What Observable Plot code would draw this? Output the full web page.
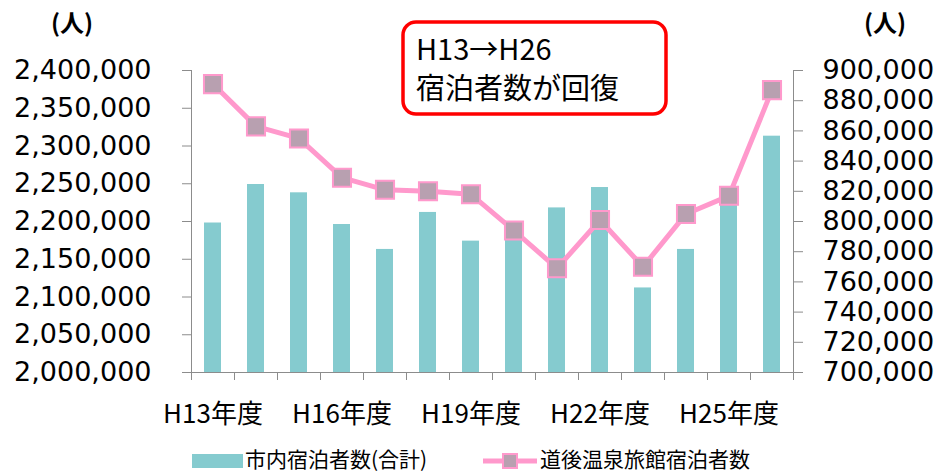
<!DOCTYPE html>
<html>
<head>
<meta charset="utf-8">
<script src="https://cdn.jsdelivr.net/npm/d3@7"></script>
<script src="https://cdn.jsdelivr.net/npm/@observablehq/plot@0.6"></script>
<style>
  html, body { margin: 0; padding: 0; background: #fff; }
  #wrap { width: 938px; height: 472px; position: relative; overflow: hidden; }
  #chart svg { display: block; }
  #legend { position: relative; width: 938px; height: 32px; font-family: "Noto Sans CJK JP", sans-serif; font-size: 21px; color: #000; }
  #legend .sw { position: absolute; }
  #legend .lab { position: absolute; top: 5px; height: 26px; line-height: 26px; white-space: nowrap; overflow: visible; }
</style>
</head>
<body>
<div id="wrap">
  <div id="chart"></div>
  <div id="legend"></div>
</div>
<script>
// ---- data ----
const categories = ["H13","H14","H15","H16","H17","H18","H19","H20","H21","H22","H23","H24","H25","H26"];
const cityStays = [2198000, 2249000, 2238000, 2196000, 2163000, 2212000, 2174000, 2190000, 2218000, 2245000, 2112000, 2163000, 2232000, 2313000];
const dogoStays = [891000, 863000, 855000, 829000, 821000, 820000, 818000, 794000, 769000, 801000, 770000, 805000, 817000, 887000];
const xTickCats = ["H13","H16","H19","H22","H25"];
const xTickLabels = ["H13年度","H16年度","H19年度","H22年度","H25年度"];
const leftTicks = [2000000, 2050000, 2100000, 2150000, 2200000, 2250000, 2300000, 2350000, 2400000];
const rightTicks = [700000, 720000, 740000, 760000, 780000, 800000, 820000, 840000, 860000, 880000, 900000];
const seriesNames = ["市内宿泊者数(合計)", "道後温泉旅館宿泊者数"];
const unitLabel = "(人)";
const noteLines = ["H13→H26", "宿泊者数が回復"];

// ---- styles ----
const barColor = "#85CBCF";
const lineColor = "#FF99CC";
const markerFill = "#B8A0B0";
const axisGray = "#8C8C8C";

// right axis (700k–900k) mapped onto left scale (2.0M–2.4M)
const leftDomain = [2000000, 2400000];
const rightDomain = [700000, 900000];
const k = (leftDomain[1] - leftDomain[0]) / (rightDomain[1] - rightDomain[0]);
const toLeft = v => leftDomain[0] + (v - rightDomain[0]) * k;
const fromLeft = v => rightDomain[0] + (v - leftDomain[0]) / k;

const data = categories.map((c, i) => ({year: c, city: cityStays[i], dogo: dogoStays[i], dogoL: toLeft(dogoStays[i])}));
const labelMap = new Map(xTickCats.map((c, i) => [c, xTickLabels[i]]));
const fmt = d3.format(",");
const half = 21.5; // half a category step, to reach the band boundaries

const chart = Plot.plot({
  width: 938,
  height: 440,
  marginLeft: 191,
  marginRight: 145,
  marginTop: 70,
  marginBottom: 68,
  style: {fontFamily: "DejaVu Sans, Verdana, sans-serif", color: "#000", background: "#fff", overflow: "visible"},
  x: {domain: categories, paddingInner: 0.6, paddingOuter: 0.3},
  y: {domain: leftDomain},
  marks: [
    Plot.barY(data, {x: "year", y1: leftDomain[0], y2: "city", fill: barColor}),
    Plot.ruleY([leftDomain[0]], {stroke: axisGray, strokeWidth: 1}),
    Plot.ruleX([categories[0]], {dx: -half, stroke: axisGray}),
    Plot.ruleX([categories[categories.length - 1]], {dx: half, stroke: axisGray}),
    Plot.axisX({ticks: categories, tickSize: 8, tickFormat: () => "", dx: -half, stroke: axisGray, label: null}),
    Plot.axisX({ticks: [categories[categories.length - 1]], tickSize: 8, tickFormat: () => "", dx: half, stroke: axisGray, label: null}),
    Plot.axisX({ticks: xTickCats, tickSize: 0, tickPadding: 32, tickFormat: c => labelMap.get(c), fontSize: 26, fontFamily: "Noto Sans CJK JP", label: null}),
    Plot.axisY({anchor: "left", ticks: leftTicks, tickFormat: fmt, tickSize: 9, tickPadding: 31, fontSize: 27, stroke: axisGray, label: null}),
    Plot.axisY({anchor: "right", ticks: rightTicks.map(toLeft), tickFormat: v => fmt(Math.round(fromLeft(v))), tickSize: 9, tickPadding: 20, fontSize: 27, stroke: axisGray, label: null}),
    Plot.line(data, {x: "year", y: "dogoL", stroke: lineColor, strokeWidth: 5}),
    Plot.dot(data, {x: "year", y: "dogoL", symbol: "square", r: 10.2, fill: markerFill, stroke: lineColor, strokeWidth: 2}),
    Plot.text([unitLabel], {text: d => d, frameAnchor: "top-left", textAnchor: "middle", lineAnchor: "middle", dx: -119.5, dy: -46, fontSize: 24, fontWeight: "bold", fontFamily: "Noto Sans CJK JP"}),
    Plot.text([unitLabel], {text: d => d, frameAnchor: "top-right", textAnchor: "middle", lineAnchor: "middle", dx: 91.5, dy: -46, fontSize: 24, fontWeight: "bold", fontFamily: "Noto Sans CJK JP"})
  ]
});
document.getElementById("chart").appendChild(chart);

// annotation box
const svg = d3.select(chart);
const note = svg.append("g").attr("text-anchor", "start");
note.append("rect").attr("x", 403).attr("y", 22).attr("width", 263).attr("height", 92)
  .attr("rx", 13).attr("fill", "#fff").attr("stroke", "#FF0000").attr("stroke-width", 3.5);
note.selectAll("text").data(noteLines).join("text")
  .attr("x", 416).attr("y", (d, i) => 60 + i * 39)
  .attr("text-anchor", "start")
  .attr("font-family", "Noto Sans CJK JP").attr("font-size", 29).attr("fill", "#000")
  .text(d => d);

// legend
const lg = document.getElementById("legend");
lg.innerHTML = `
  <div class="sw" style="left:192px; top:14px; width:51px; height:14px; background:${barColor}"></div>
  <div class="lab" style="left:245px">${seriesNames[0]}</div>
  <svg class="sw" style="left:482px; top:9px" width="56" height="24">
    <line x1="1" x2="55" y1="12" y2="12" stroke="${lineColor}" stroke-width="5"/>
    <rect x="21" y="5" width="14" height="14" fill="${markerFill}" stroke="${lineColor}" stroke-width="2"/>
  </svg>
  <div class="lab" style="left:540px">${seriesNames[1]}</div>`;
</script>
</body>
</html>
